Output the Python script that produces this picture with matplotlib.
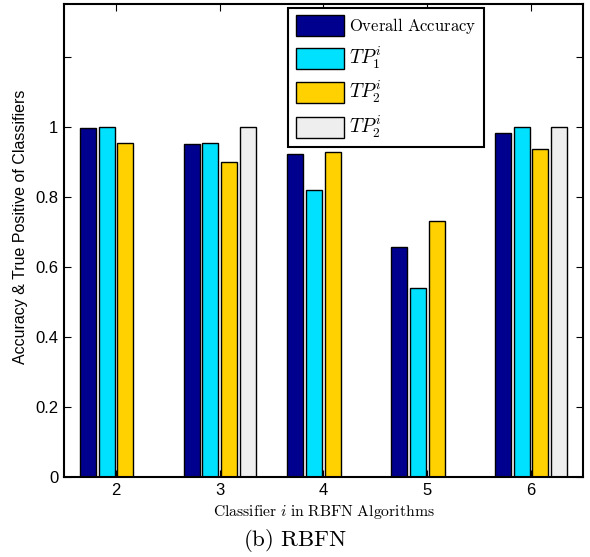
import numpy as np
import matplotlib.pyplot as plt
from matplotlib.patches import Patch

plt.rcParams['mathtext.fontset'] = 'cm'

classifiers = [2, 3, 4, 5, 6]
overall_acc = [0.997, 0.951, 0.922, 0.657, 0.983]
tp1 = [1.0, 0.954, 0.820, 0.540, 1.0]
tp2 = [0.954, 0.898, 0.929, 0.732, 0.937]
tp2_b = [0.0, 1.0, 0.0, 0.0, 1.0]

series = [overall_acc, tp1, tp2, tp2_b]
colors = ['#00008F', '#00E1FF', '#FFD100', '#EEEEEE']
labels = [r'$\mathrm{Overall\ Accuracy}$', r'$TP_1^i$', r'$TP_2^i$', r'$TP_2^i$']

fig = plt.figure(figsize=(5.9, 5.57), dpi=100)
ax = fig.add_axes([0.1085, 0.1436, 0.8795, 0.8492])

x = np.array(classifiers, dtype=float)
step = 0.18
width = 0.155
for k, (vals, c) in enumerate(zip(series, colors)):
    ax.bar(x + (k - 1.5) * step, vals, width=width, color=c,
           edgecolor='black', linewidth=1.0)

ax.set_xlim(1.5, 6.5)
ax.set_ylim(0, 1.35)
ax.set_xticks(classifiers)
ax.set_yticks([0, 0.2, 0.4, 0.6, 0.8, 1.0, 1.2])
ax.set_yticklabels(['0', '0.2', '0.4', '0.6', '0.8', '1', ''])
ax.tick_params(direction='in', top=True, right=True, length=5,
               labelsize=12, pad=4)
for lbl in ax.get_xticklabels() + ax.get_yticklabels():
    lbl.set_family('Liberation Sans')
for s in ax.spines.values():
    s.set_linewidth(1.5)

ax.set_ylabel('Accuracy & True Positive of Classifiers', fontsize=11.5,
              family='Liberation Sans')
ax.yaxis.set_label_coords(-0.07, 0.53)
ax.set_xlabel(r'$\mathrm{Classifier}\ i\ \mathrm{in\ RBFN\ Algorithms}$',
              fontsize=11.3, labelpad=4)

handles = [Patch(facecolor=c, edgecolor='black', linewidth=1.0) for c in colors]
leg = ax.legend(handles, labels, loc='upper left', bbox_to_anchor=(0.432, 0.992),
                fontsize=12, handlelength=2.9, handleheight=1.55,
                labelspacing=0.5, handletextpad=0.3, borderpad=0.45,
                fancybox=False, framealpha=1, borderaxespad=0)
for t in leg.get_texts()[1:]:
    t.set_fontsize(14)
leg.get_frame().set_edgecolor('black')
leg.get_frame().set_linewidth(1.5)

fig.text(0.5, 0.03, r'$\mathrm{(b)\ RBFN}$', ha='center', va='center',
         fontsize=16.5)

fig.savefig('out.png', dpi=100)
